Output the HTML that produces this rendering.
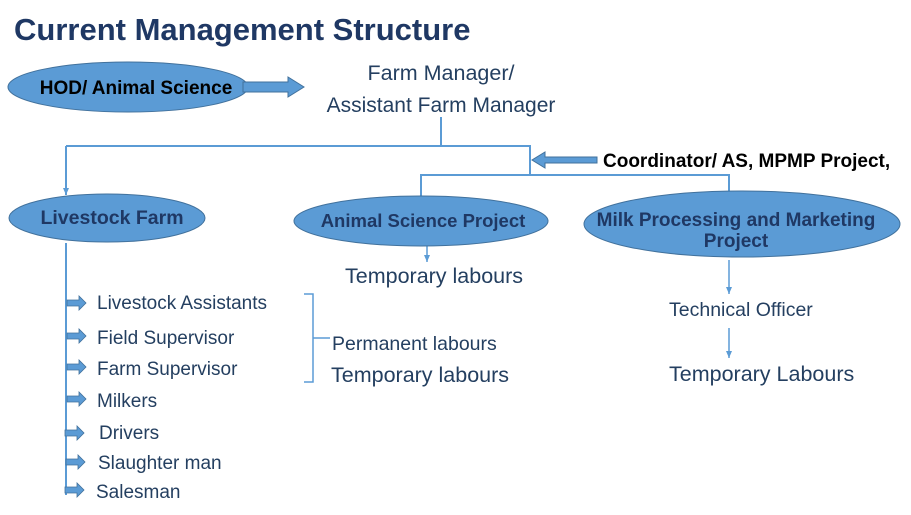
<!DOCTYPE html>
<html><head><style>body{margin:0;background:#fff}svg{display:block}</style></head><body>
<svg width="911" height="515" xmlns="http://www.w3.org/2000/svg" font-family="Liberation Sans, sans-serif">
<defs><marker id="a" markerUnits="userSpaceOnUse" markerWidth="8" markerHeight="6" refX="7" refY="3" orient="auto"><path d="M0,0L7,3L0,6z" fill="#5b9bd5"/></marker></defs>
<text x="14" y="40" font-size="31" font-weight="bold" fill="#1f3864">Current Management Structure</text>
<ellipse cx="128" cy="87" rx="120" ry="25" fill="#5b9bd5" stroke="#41719c"/>
<text x="136" y="94" font-size="19" font-weight="bold" text-anchor="middle" fill="#000">HOD/ Animal Science</text>
<path d="M243,82h45v-5l16,10l-16,10v-5h-45z" fill="#5b9bd5" stroke="#41719c"/>
<text x="441" y="80" font-size="21.5" text-anchor="middle" fill="#243f60">Farm Manager/</text>
<text x="441" y="112" font-size="21" text-anchor="middle" fill="#243f60">Assistant Farm Manager</text>
<g stroke="#5b9bd5" stroke-width="2" fill="none">
<path d="M441,117V146M66,146H530V175M421,196V175H729V192"/>
<path d="M66,146V195" marker-end="url(#a)"/>
<path d="M66,243V495"/>
<path d="M427,246V262" stroke-width="1.5" marker-end="url(#a)"/>
<path d="M729,260V294" stroke-width="1.5" marker-end="url(#a)"/>
<path d="M729,328V358" stroke-width="1.5" marker-end="url(#a)"/>
<path d="M304,294H313V382H304M313,338H330" stroke-width="1.5"/>
</g>
<path d="M597,157h-52v-5l-13,8l13,8v-5h52z" fill="#5b9bd5" stroke="#41719c"/>
<text x="603" y="167" font-size="19" font-weight="bold" fill="#000">Coordinator/ AS, MPMP Project,</text>
<ellipse cx="107" cy="218" rx="98" ry="24" fill="#5b9bd5" stroke="#41719c"/>
<text x="112" y="224" font-size="19.5" font-weight="bold" text-anchor="middle" fill="#1f3864">Livestock Farm</text>
<ellipse cx="421" cy="221" rx="127" ry="25" fill="#5b9bd5" stroke="#41719c"/>
<text x="423" y="227" font-size="18.5" font-weight="bold" text-anchor="middle" fill="#1f3864">Animal Science Project</text>
<ellipse cx="742" cy="224" rx="158" ry="33" fill="#5b9bd5" stroke="#41719c"/>
<text x="736" y="226" font-size="19" font-weight="bold" text-anchor="middle" fill="#1f3864">Milk Processing and Marketing</text>
<text x="736" y="247" font-size="19" font-weight="bold" text-anchor="middle" fill="#1f3864">Project</text>
<g font-size="21.5" fill="#243f60">
<text x="345" y="283">Temporary labours</text>
<text x="331" y="382">Temporary labours</text>
<text x="669" y="381">Temporary Labours</text>
</g>
<g font-size="19.5" fill="#243f60">
<text x="332" y="350">Permanent labours</text>
<text x="669" y="316">Technical Officer</text>
</g>
<g font-size="19" fill="#243f60">
<text x="97" y="309">Livestock Assistants</text>
<text x="97" y="344">Field Supervisor</text>
<text x="97" y="375">Farm Supervisor</text>
<text x="97" y="407">Milkers</text>
<text x="99" y="439">Drivers</text>
<text x="98" y="469">Slaughter man</text>
<text x="96" y="498">Salesman</text>
</g>
<g fill="#5b9bd5" stroke="#41719c" stroke-width="0.8">
<path d="M0,-3h12v-4l7,7l-7,7v-4h-12z" transform="translate(67,303)"/>
<path d="M0,-3h12v-4l7,7l-7,7v-4h-12z" transform="translate(67,336)"/>
<path d="M0,-3h12v-4l7,7l-7,7v-4h-12z" transform="translate(67,367)"/>
<path d="M0,-3h12v-4l7,7l-7,7v-4h-12z" transform="translate(67,399)"/>
<path d="M0,-3h12v-4l7,7l-7,7v-4h-12z" transform="translate(65,433)"/>
<path d="M0,-3h12v-4l7,7l-7,7v-4h-12z" transform="translate(66,462)"/>
<path d="M0,-3h12v-4l7,7l-7,7v-4h-12z" transform="translate(65,490)"/>
</g>
</svg>
</body></html>
